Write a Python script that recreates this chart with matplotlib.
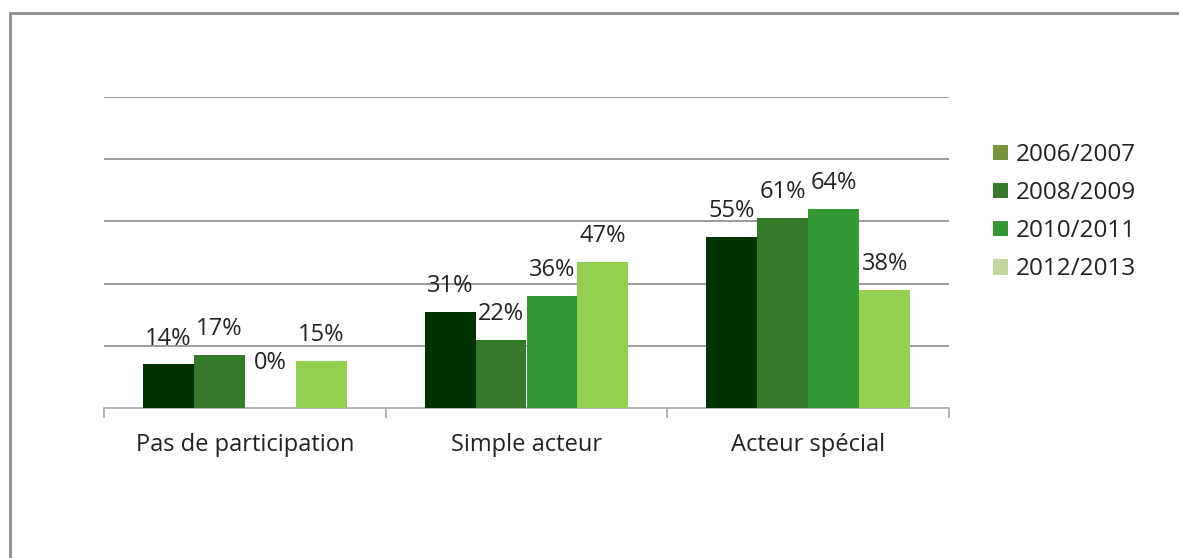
# grouped bars: participation by school year
import matplotlib.pyplot as plt
from matplotlib.patches import Patch, Rectangle
import numpy as np

plt.rcParams['font.family'] = ['Open Sans', 'DejaVu Sans']

categories = ['Pas de participation', 'Simple acteur', 'Acteur spécial']
years = ['2006/2007', '2008/2009', '2010/2011', '2012/2013']
values = [
    [14, 31, 55],   # 2006/2007
    [17, 22, 61],   # 2008/2009
    [0, 36, 64],    # 2010/2011
    [15, 47, 38],   # 2012/2013
]
bar_colors = ['#003300', '#357a2a', '#339933', '#92d050']
legend_colors = ['#77933c', '#37792b', '#339933', '#c3d69b']
text_color = '#222222'

fig = plt.figure(figsize=(11.79, 5.58), dpi=100)
ax = fig.add_axes([104 / 1179, 1 - 408 / 558, 845 / 1179, 311 / 558])

x = np.arange(len(categories))
w = 0.181
for i, (vals, col) in enumerate(zip(values, bar_colors)):
    pos = x + (i - 1.5) * w
    ax.bar(pos, vals, w, color=col, zorder=3)
    for px, v in zip(pos, vals):
        pad = 10 if v else 24
        ax.annotate(f'{v}%', (px, v), xytext=(0, pad), textcoords='offset points',
                    ha='center', va='bottom', fontsize=17, color=text_color, zorder=4)

ax.set_xlim(-0.5, len(categories) - 0.5)
ax.set_ylim(0, 100)
ax.set_yticks(np.arange(20, 101, 20))
ax.yaxis.grid(True, color='#8a8a8a', lw=1.2, zorder=0)
ax.tick_params(axis='y', length=0, labelleft=False)

ax.set_xticks(x)
ax.set_xticklabels(categories, fontsize=17, color=text_color)
ax.tick_params(axis='x', which='major', length=0, pad=18)
ax.set_xticks(np.arange(-0.5, len(categories), 1), minor=True)
ax.tick_params(axis='x', which='minor', length=7, color='#a6a6a6', width=1.2)

for s in ['top', 'right', 'left']:
    ax.spines[s].set_visible(False)
ax.spines['bottom'].set_color('#a6a6a6')
ax.spines['bottom'].set_linewidth(1.2)

handles = [Patch(facecolor=c, edgecolor='none') for c in legend_colors]
fig.legend(handles, years, loc='upper left', bbox_to_anchor=(981 / 1179, 1 - 131 / 558),
           frameon=False, fontsize=17.5, handlelength=0.6, handleheight=0.6,
           handletextpad=0.33, labelspacing=0.58, borderpad=0, labelcolor=text_color)

# chart frame
fig.patches.append(Rectangle((10 / 1179, -0.1), 1.2, 1.1 - 13 / 558, transform=fig.transFigure,
                             fill=False, edgecolor='#8c8c8c', lw=2))

fig.savefig('out.png', dpi=100)
